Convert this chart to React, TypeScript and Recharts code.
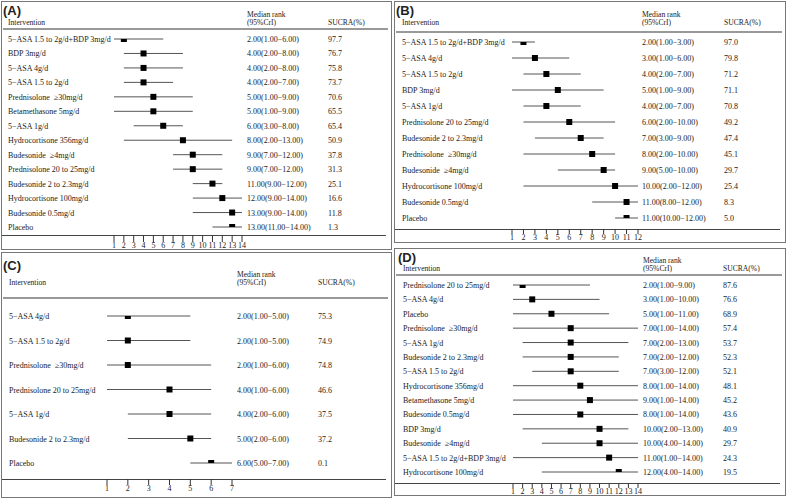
import React from "react";
import { ScatterChart, Scatter, XAxis, YAxis, ErrorBar } from "recharts";

// ---- (A) ----
const namesA = [
  "5−ASA 1.5 to 2g/d+BDP 3mg/d",
  "BDP 3mg/d",
  "5−ASA 4g/d",
  "5−ASA 1.5 to 2g/d",
  "Prednisolone \u00a0≥30mg/d",
  "Betamethasone 5mg/d",
  "5−ASA 1g/d",
  "Hydrocortisone 356mg/d",
  "Budesonide \u00a0≥4mg/d",
  "Prednisolone 20 to 25mg/d",
  "Budesonide 2 to 2.3mg/d",
  "Hydrocortisone 100mg/d",
  "Budesonide 0.5mg/d",
  "Placebo",
];
const medianA = [2, 4, 4, 4, 5, 5, 6, 8, 9, 9, 11, 12, 13, 13];
const lowA = [1, 2, 2, 2, 1, 1, 3, 2, 7, 7, 9, 9, 9, 11];
const highA = [6, 8, 8, 7, 9, 9, 8, 13, 12, 12, 12, 14, 14, 14];
const sucraA = [97.7, 76.7, 75.8, 73.7, 70.6, 65.5, 65.4, 50.9, 37.8, 31.3, 25.1, 16.6, 11.8, 1.3];
const ticksA = [1, 2, 3, 4, 5, 6, 7, 8, 9, 10, 11, 12, 13, 14];

// ---- (B) ----
const namesB = [
  "5−ASA 1.5 to 2g/d+BDP 3mg/d",
  "5−ASA 4g/d",
  "5−ASA 1.5 to 2g/d",
  "BDP 3mg/d",
  "5−ASA 1g/d",
  "Prednisolone 20 to 25mg/d",
  "Budesonide 2 to 2.3mg/d",
  "Prednisolone \u00a0≥30mg/d",
  "Budesonide \u00a0≥4mg/d",
  "Hydrocortisone 100mg/d",
  "Budesonide 0.5mg/d",
  "Placebo",
];
const medianB = [2, 3, 4, 5, 4, 6, 7, 8, 9, 10, 11, 11];
const lowB = [1, 1, 2, 1, 2, 2, 3, 2, 5, 2, 8, 10];
const highB = [3, 6, 7, 9, 7, 10, 9, 10, 10, 12, 12, 12];
const sucraB = [97.0, 79.8, 71.2, 71.1, 70.8, 49.2, 47.4, 45.1, 29.7, 25.4, 8.3, 5.0];
const ticksB = [1, 2, 3, 4, 5, 6, 7, 8, 9, 10, 11, 12];

// ---- (C) ----
const namesC = [
  "5−ASA 4g/d",
  "5−ASA 1.5 to 2g/d",
  "Prednisolone \u00a0≥30mg/d",
  "Prednisolone 20 to 25mg/d",
  "5−ASA 1g/d",
  "Budesonide 2 to 2.3mg/d",
  "Placebo",
];
const medianC = [2, 2, 2, 4, 4, 5, 6];
const lowC = [1, 1, 1, 1, 2, 2, 5];
const highC = [5, 5, 6, 6, 6, 6, 7];
const sucraC = [75.3, 74.9, 74.8, 46.6, 37.5, 37.2, 0.1];
const ticksC = [1, 2, 3, 4, 5, 6, 7];

// ---- (D) ----
const namesD = [
  "Prednisolone 20 to 25mg/d",
  "5−ASA 4g/d",
  "Placebo",
  "Prednisolone \u00a0≥30mg/d",
  "5−ASA 1g/d",
  "Budesonide 2 to 2.3mg/d",
  "5−ASA 1.5 to 2g/d",
  "Hydrocortisone 356mg/d",
  "Betamethasone 5mg/d",
  "Budesonide 0.5mg/d",
  "BDP 3mg/d",
  "Budesonide \u00a0≥4mg/d",
  "5−ASA 1.5 to 2g/d+BDP 3mg/d",
  "Hydrocortisone 100mg/d",
];
const medianD = [2, 3, 5, 7, 7, 7, 7, 8, 9, 8, 10, 10, 11, 12];
const lowD = [1, 1, 1, 1, 2, 2, 3, 1, 1, 1, 2, 4, 1, 4];
const highD = [9, 10, 11, 14, 13, 12, 12, 14, 14, 14, 13, 14, 14, 14];
const sucraD = [87.6, 76.6, 68.9, 57.4, 53.7, 52.3, 52.1, 48.1, 45.2, 43.6, 40.9, 29.7, 24.3, 19.5];
const ticksD = [1, 2, 3, 4, 5, 6, 7, 8, 9, 10, 11, 12, 13, 14];

const SERIF = "'Liberation Serif', 'Times New Roman', serif";
const SANS = "'Liberation Sans', Arial, sans-serif";

type Row = { idx: number; name: string; median: number; err: [number, number]; low: number; high: number; sucra: number };

function buildRows(names: string[], median: number[], low: number[], high: number[], sucra: number[]): Row[] {
  return names.map((name, i) => ({
    idx: i,
    name,
    median: median[i],
    low: low[i],
    high: high[i],
    err: [median[i] - low[i], high[i] - median[i]],
    sucra: sucra[i],
  }));
}

type Layout = {
  left: number; top: number; w: number; h: number;
  titleX: number; titleY: number; head1: number; head2: number;
  ruleY: number; firstY: number; lastY: number; axisY: number; tickLen: number;
  x1: number; xN: number; labelX: number; medX: number; sucX: number;
};

const layoutA: Layout = { left: 1, top: 1, w: 391, h: 249, titleX: 2, titleY: 9, head1: 14, head2: 22, ruleY: 28, firstY: 38, lastY: 226, axisY: 234, tickLen: 7, x1: 113, xN: 241, labelX: 7, medX: 246, sucX: 327 };
const layoutB: Layout = { left: 394, top: 1, w: 392, h: 242, titleX: 2, titleY: 9, head1: 14, head2: 22, ruleY: 31, firstY: 41, lastY: 217, axisY: 228, tickLen: 5, x1: 118, xN: 244, labelX: 8, medX: 248, sucX: 330 };
const layoutC: Layout = { left: 1, top: 252, w: 391, h: 246, titleX: 2, titleY: 13, head1: 23, head2: 31, ruleY: 46, firstY: 64, lastY: 211, axisY: 227, tickLen: 6, x1: 106, xN: 231, labelX: 8, medX: 236, sucX: 317 };
const layoutD: Layout = { left: 394, top: 248, w: 392, h: 248, titleX: 4, titleY: 9, head1: 13, head2: 21, ruleY: 27, firstY: 37, lastY: 224, axisY: 235, tickLen: 5, x1: 119, xN: 244, labelX: 9, medX: 249, sucX: 329 };

function Txt({ x, y, children, size = 7.6, bold = false, sans = false }: any) {
  return (
    <div
      style={{
        position: "absolute",
        left: x,
        top: y,
        transform: "translateY(-50%)",
        lineHeight: 1,
        whiteSpace: "nowrap",
        fontSize: size,
        fontWeight: bold ? 700 : 400,
        fontFamily: sans ? SANS : SERIF,
        color: "#222",
      }}
    >
      {children}
    </div>
  );
}

const fmt = (v: number) => v.toFixed(2);

function Panel({ title, L, rows, ticks }: { title: string; L: Layout; rows: Row[]; ticks: number[] }) {
  const renderTick = (p: any) => {
    const r = rows[p.payload.value];
    if (!r) return <g />;
    return (
      <g fontFamily={SERIF} fontSize={8} fill="#222">
        <text x={L.labelX} y={p.y} dy={3}>{r.name}</text>
        <text x={L.medX} y={p.y} dy={3}>{`${fmt(r.median)}(${fmt(r.low)}−${fmt(r.high)})`}</text>
        <text x={L.sucX} y={p.y} dy={3}>{r.sucra.toFixed(1)}</text>
      </g>
    );
  };
  return (
    <div
      style={{
        position: "absolute",
        left: L.left,
        top: L.top,
        width: L.w,
        height: L.h,
        boxSizing: "border-box",
        border: "1px solid #777",
        background: "#fff",
      }}
    >
      <div style={{ position: "absolute", left: -1, top: -1, width: L.w, height: L.h }}>
        <Txt x={L.titleX} y={L.titleY} size={13} bold sans>{title}</Txt>
        <Txt x={L.labelX} y={L.head2}>Intervention</Txt>
        <Txt x={L.medX} y={L.head1}>Median rank</Txt>
        <Txt x={L.medX} y={L.head2}>(95%CrI)</Txt>
        <Txt x={L.sucX} y={L.head2}>SUCRA(%)</Txt>
        <div style={{ position: "absolute", left: 2, top: L.ruleY - 1, width: L.w - 6, height: 2, background: "#999" }} />
        <div style={{ position: "absolute", left: 1, top: L.axisY, width: L.w - 7, height: 1, background: "#444" }} />
        <div style={{ position: "absolute", left: 0, top: 0 }}>
          <ScatterChart
            width={L.w}
            height={L.h}
            margin={{ top: L.ruleY, right: L.w - L.xN, bottom: 0, left: 0 }}
          >
            <XAxis
              type="number"
              dataKey="median"
              domain={[ticks[0], ticks[ticks.length - 1]]}
              ticks={ticks}
              interval={0}
              allowDataOverflow
              height={L.h - L.axisY}
              axisLine={false}
              tickSize={L.tickLen}
              tickMargin={0}
              tickLine={{ stroke: "#333" }}
              tick={{ fontSize: 8, fontFamily: SERIF, fill: "#222" }}
            />
            <YAxis
              type="number"
              dataKey="idx"
              domain={[0, rows.length - 1]}
              ticks={rows.map((r) => r.idx)}
              interval={0}
              reversed
              allowDataOverflow
              width={L.x1}
              padding={{ top: L.firstY - L.ruleY, bottom: L.axisY - L.lastY }}
              axisLine={false}
              tickLine={false}
              tick={renderTick}
            />
            <Scatter
              data={rows}
              isAnimationActive={false}
              shape={(p: any) => <rect x={p.cx - 3} y={p.cy - 3} width={6} height={6} fill="#000" />}
            >
              <ErrorBar dataKey="err" direction="x" width={0} stroke="#555" strokeWidth={1} isAnimationActive={false} />
            </Scatter>
          </ScatterChart>
        </div>
      </div>
    </div>
  );
}

const rowsA = buildRows(namesA, medianA, lowA, highA, sucraA);
const rowsB = buildRows(namesB, medianB, lowB, highB, sucraB);
const rowsC = buildRows(namesC, medianC, lowC, highC, sucraC);
const rowsD = buildRows(namesD, medianD, lowD, highD, sucraD);

export default function App() {
  return (
    <div style={{ position: "absolute", left: 0, top: 0, width: 787, height: 500, background: "#fff", overflow: "hidden" }}>
      <Panel title="(A)" L={layoutA} rows={rowsA} ticks={ticksA} />
      <Panel title="(B)" L={layoutB} rows={rowsB} ticks={ticksB} />
      <Panel title="(C)" L={layoutC} rows={rowsC} ticks={ticksC} />
      <Panel title="(D)" L={layoutD} rows={rowsD} ticks={ticksD} />
    </div>
  );
}
